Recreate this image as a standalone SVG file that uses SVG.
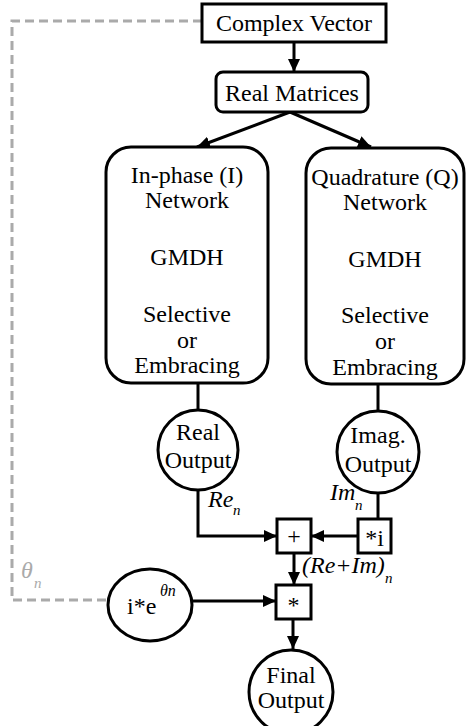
<svg xmlns="http://www.w3.org/2000/svg" width="466" height="726" viewBox="0 0 466 726">
  <style>
    .box { fill: #fff; stroke: #000; stroke-width: 3; }
    .t { font-family: 'Liberation Serif', 'DejaVu Serif', serif; font-size: 24px; fill: #000; text-anchor: middle; }
    .it { font-family: 'Liberation Serif', 'DejaVu Serif', serif; font-style: italic; fill: #000; }
    .grey { fill: #aaa; }
    .wire { fill: none; stroke: #000; stroke-width: 3; }
    .dash { fill: none; stroke: #aaa; stroke-width: 3; stroke-dasharray: 9 5; }
  </style>
  <defs>
    <marker id="arrow" markerUnits="userSpaceOnUse" markerWidth="14" markerHeight="12" refX="13" refY="6" orient="auto">
      <path d="M0,0 L13,6 L0,12 z" fill="#000"/>
    </marker>
  </defs>
  <rect width="466" height="726" fill="#fff"/>

  <!-- connectors -->
  <g id="connectors">
    <path class="dash" d="M202,21 H12 V600 H108"/>
    <line class="wire" x1="294" y1="42" x2="294" y2="72" marker-end="url(#arrow)"/>
    <line class="wire" x1="290" y1="112" x2="197" y2="147" marker-end="url(#arrow)"/>
    <line class="wire" x1="290" y1="112" x2="371" y2="147" marker-end="url(#arrow)"/>
    <line class="wire" x1="198" y1="383" x2="198" y2="410"/>
    <line class="wire" x1="378" y1="384" x2="378" y2="411"/>
    <path class="wire" d="M198,490 V536 H277" marker-end="url(#arrow)"/>
    <line class="wire" x1="378" y1="493" x2="378" y2="519"/>
    <line class="wire" x1="358" y1="536" x2="311" y2="536" marker-end="url(#arrow)"/>
    <line class="wire" x1="294" y1="553" x2="294" y2="585" marker-end="url(#arrow)"/>
    <line class="wire" x1="192" y1="601" x2="276" y2="601" marker-end="url(#arrow)"/>
    <line class="wire" x1="293" y1="619" x2="293" y2="649" marker-end="url(#arrow)"/>
  </g>

  <!-- connector labels -->
  <text class="it" x="208" y="507" font-size="24">Re</text>
  <text class="it" x="233" y="515" font-size="15">n</text>
  <text class="it" x="330" y="500" font-size="24">Im</text>
  <text class="it" x="355" y="510" font-size="15">n</text>
  <text class="it" x="302" y="573" font-size="24">(Re+Im)</text>
  <text class="it" x="385" y="583" font-size="15">n</text>
  <text class="it grey" x="21" y="578" font-size="24">θ</text>
  <text class="it grey" x="34" y="588" font-size="15">n</text>

  <g id="complex-vector">
    <rect class="box" x="202" y="4" width="184" height="38"/>
    <text class="t" x="294" y="31">Complex Vector</text>
  </g>

  <g id="real-matrices">
    <rect class="box" x="216" y="72" width="152" height="40" rx="7"/>
    <text class="t" x="292" y="101">Real Matrices</text>
  </g>

  <g id="in-phase-network">
    <rect class="box" x="106" y="147" width="162" height="236" rx="25"/>
    <text class="t" x="187" y="183">In-phase (I)</text>
    <text class="t" x="187" y="208">Network</text>
    <text class="t" x="187" y="265">GMDH</text>
    <text class="t" x="187" y="322">Selective</text>
    <text class="t" x="187" y="348">or</text>
    <text class="t" x="187" y="373">Embracing</text>
  </g>

  <g id="quadrature-network">
    <rect class="box" x="306" y="148" width="158" height="236" rx="25"/>
    <text class="t" x="385" y="185">Quadrature (Q)</text>
    <text class="t" x="385" y="210">Network</text>
    <text class="t" x="385" y="267">GMDH</text>
    <text class="t" x="385" y="323">Selective</text>
    <text class="t" x="385" y="349">or</text>
    <text class="t" x="385" y="375">Embracing</text>
  </g>

  <g id="real-output">
    <circle class="box" cx="198" cy="450" r="40"/>
    <text class="t" x="198" y="440">Real</text>
    <text class="t" x="198" y="468">Output</text>
  </g>

  <g id="imag-output">
    <circle class="box" cx="378" cy="452" r="41"/>
    <text class="t" x="378" y="443">Imag.</text>
    <text class="t" x="378" y="472">Output</text>
  </g>

  <g id="sum">
    <rect class="box" x="277" y="519" width="34" height="34"/>
    <text class="t" x="294" y="544">+</text>
  </g>

  <g id="times-i">
    <rect class="box" x="358" y="519" width="33" height="34"/>
    <text class="t" x="374.5" y="546">*i</text>
  </g>

  <g id="rotation">
    <ellipse class="box" cx="150" cy="605" rx="42" ry="36"/>
    <text class="t" x="127" y="614" style="text-anchor:start">i*e</text>
    <text class="it" x="160" y="596" font-size="16">θn</text>
  </g>

  <g id="product">
    <rect class="box" x="276" y="585" width="35" height="34"/>
    <text class="t" x="293.5" y="613">*</text>
  </g>

  <g id="final-output">
    <circle class="box" cx="291" cy="692" r="42"/>
    <text class="t" x="291" y="683">Final</text>
    <text class="t" x="291" y="708">Output</text>
  </g>
</svg>
